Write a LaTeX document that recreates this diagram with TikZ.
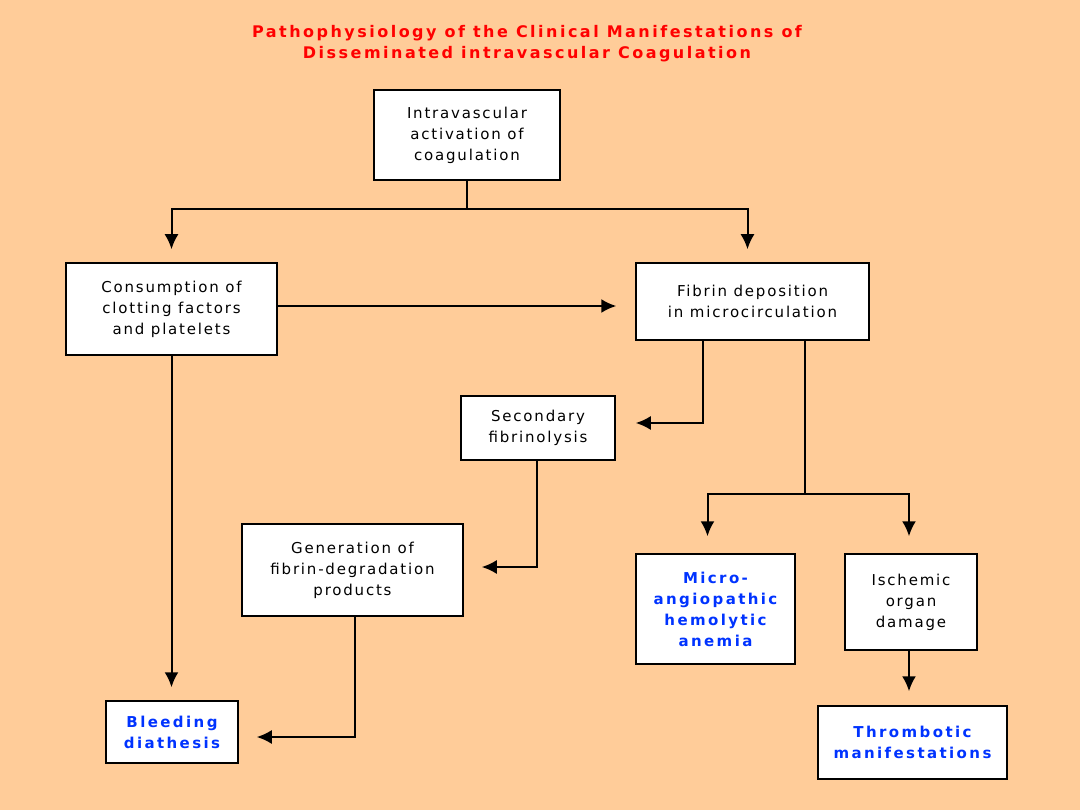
\documentclass[tikz,border=0pt]{standalone}
\usepackage{fontspec}
\setmainfont{DejaVu Sans}[LetterSpace=12]
\newfontfamily\boldface{DejaVu Sans Bold}[LetterSpace=16]
\newfontfamily\titleface{DejaVu Sans Bold}[LetterSpace=15.5]
\usetikzlibrary{arrows.meta,calc}
\definecolor{peach}{HTML}{FFCC99}
\definecolor{titlered}{HTML}{FF0000}
\definecolor{linkblue}{HTML}{0033FF}
\begin{document}
\begin{tikzpicture}[x=1pt,y=-1pt,
  box/.style={draw=black,line width=1.5pt,fill=white,inner sep=0pt,align=center,
    font=\fontsize{15}{21}\selectfont},
  keybox/.style={box,text=linkblue,font=\fontsize{15}{21}\boldface},
  line/.style={draw=black,line width=2pt},
  arr/.style={line,-{Latex[length=15pt,width=14pt]}},
]
\fill[peach] (0,0) rectangle (1080,810);
\useasboundingbox (0,0) rectangle (1080,810);

\node[text=titlered,font=\fontsize{16}{21}\titleface,align=center] (title) at (527,44)
  {Pathophysiology of the Clinical Manifestations of\\Disseminated intravascular Coagulation};

\node[box,minimum width=186pt,minimum height=90pt] (A) at (467,135)
  {Intravascular\\activation of\\coagulation};
\node[box,minimum width=211pt,minimum height=92pt] (B) at (171.5,309)
  {Consumption of\\clotting factors\\and platelets};
\node[box,minimum width=233pt,minimum height=77pt] (C) at (752.5,301.5)
  {Fibrin deposition\\in microcirculation};
\node[box,minimum width=154pt,minimum height=64pt] (D) at (538,428)
  {Secondary\\fibrinolysis};
\node[keybox,minimum width=159pt,minimum height=110pt] (E) at (715.5,609)
  {Micro-\\angiopathic\\hemolytic\\anemia};
\node[box,minimum width=132pt,minimum height=96pt] (F) at (911,602)
  {Ischemic\\organ\\damage};
\node[keybox,minimum width=189pt,minimum height=73pt] (G) at (912.5,742.5)
  {Thrombotic\\manifestations};
\node[box,minimum width=221pt,minimum height=92pt] (H) at (352.5,570)
  {Generation of\\fibrin-degradation\\products};
\node[keybox,minimum width=132pt,minimum height=62pt] (I) at (172,732)
  {Bleeding\\diathesis};

% A -> B, C
\coordinate (j1) at (467,209);
\draw[line] (A.south) -- (j1);
\draw[arr,shorten >=13pt] (j1) -| (B.north);
\draw[arr,shorten >=13pt] (j1) -| ([xshift=-5pt]C.north);
% B -> C
\draw[arr,shorten >=19pt] ([yshift=3pt]B.east) -- ([yshift=3pt]B.east -| C.west);
% C -> D
\draw[arr,shorten >=20pt] ([xshift=-50pt]C.south) |- ([yshift=5pt]D.east);
% C -> E, F
\coordinate (j2) at (805,494);
\draw[line] ([xshift=52.5pt]C.south) -- (j2);
\draw[arr,shorten >=17pt] (j2) -| ([xshift=-8pt]E.north);
\draw[arr,shorten >=17pt] (j2) -| ([xshift=-2pt]F.north);
% F -> G
\draw[arr,shorten >=14pt] ([xshift=-2pt]F.south) -- ([xshift=-2pt]F.south |- G.north);
% D -> H
\draw[arr,shorten >=18pt] ([xshift=-1pt]D.south) |- ([yshift=3pt]H.east);
% H -> I
\draw[arr,shorten >=18pt] ([xshift=2.5pt]H.south) |- ([yshift=-5pt]I.east);
% B -> I
\draw[arr,shorten >=13pt] (B.south) -- (B.south |- I.north);
\end{tikzpicture}
\end{document}
